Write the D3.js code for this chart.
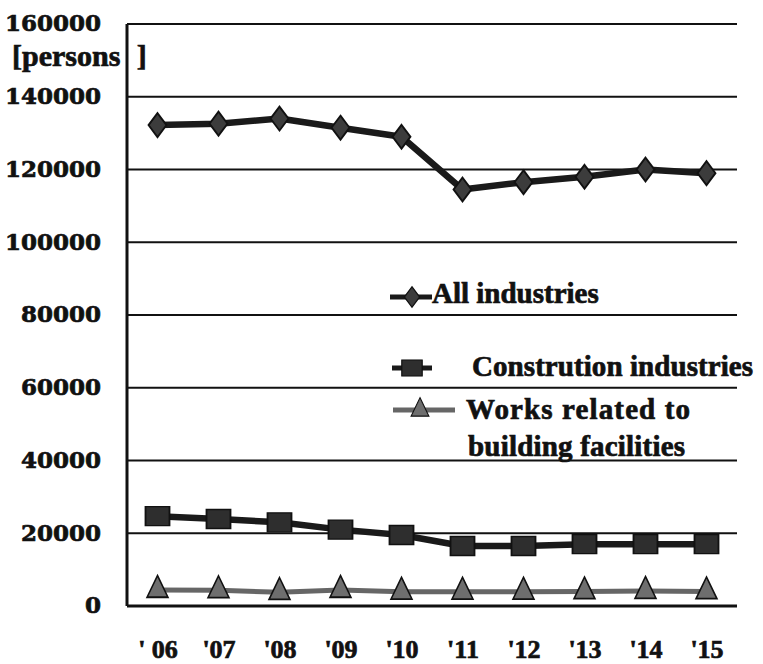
<!DOCTYPE html>
<html>
<head>
<meta charset="utf-8">
<script src="https://cdn.jsdelivr.net/npm/d3@7"></script>
<style>
  html, body { margin: 0; padding: 0; background: #fff; }
  svg { display: block; }
</style>
</head>
<body>
<svg id="chart" width="763" height="664"></svg>
<script>
// Employment by year, in persons
const years = ["' 06", "'07", "'08", "'09", "'10", "'11", "'12", "'13", "'14", "'15"];
const allIndustries = [132200, 132600, 134000, 131500, 129000, 114500, 116500, 118000, 120000, 119000];
const constructionIndustries = [24700, 23900, 23000, 21000, 19500, 16500, 16500, 17000, 17000, 17000];
const buildingFacilityWorks = [4400, 4300, 3800, 4400, 3900, 3900, 3900, 4000, 4100, 4000];
const yTicks = [0, 20000, 40000, 60000, 80000, 100000, 120000, 140000, 160000];
const seriesNames = ["All industries", "Constrution industries", ["Works related to", "building facilities"]];

const svg = d3.select("#chart");
const plotLeft = 127, plotRight = 737, plotTop = 24, plotBottom = 606;
const ink = "#111";

const x = d3.scalePoint().domain(years).range([plotLeft, plotRight]).padding(0.5);
const y = d3.scaleLinear().domain([0, 160000]).range([plotBottom, plotTop]);

// Heavy serif text, slightly outlined to thicken the strokes
function heavy(sel, family, size) {
  return sel
    .attr("font-family", family)
    .attr("font-weight", "bold")
    .attr("font-size", size)
    .attr("fill", ink)
    .attr("stroke", ink)
    .attr("stroke-width", 0.7);
}

// Horizontal grid
svg.append("g")
  .selectAll("line")
  .data(yTicks.filter(d => d > 0))
  .join("line")
  .attr("x1", plotLeft).attr("x2", plotRight)
  .attr("y1", d => y(d)).attr("y2", d => y(d))
  .attr("stroke", ink).attr("stroke-width", 2);

// Y axis tick labels
const yAxis = d3.axisLeft(y).tickValues(yTicks).tickSize(0).tickPadding(0).tickFormat(d3.format("d"));
const gy = svg.append("g").attr("transform", `translate(101,0)`).call(yAxis);
gy.select(".domain").remove();
heavy(gy.selectAll("text"), "'DejaVu Serif', serif", 23).attr("dy", "0.3em");

// Unit label
heavy(svg.append("text"), "'Liberation Serif', serif", 30)
  .attr("x", 12).attr("y", 66)
  .attr("word-spacing", 9)
  .text("[persons ]");

// Axis lines
svg.append("line").attr("x1", plotLeft).attr("x2", plotLeft).attr("y1", plotTop).attr("y2", plotBottom)
  .attr("stroke", ink).attr("stroke-width", 3);
svg.append("line").attr("x1", plotLeft).attr("x2", plotRight).attr("y1", plotBottom).attr("y2", plotBottom)
  .attr("stroke", ink).attr("stroke-width", 3);

// X axis tick labels
const xAxis = d3.axisBottom(x).tickSize(0).tickPadding(0);
const gx = svg.append("g").attr("transform", `translate(0,658)`).call(xAxis);
gx.select(".domain").remove();
heavy(gx.selectAll("text"), "'Liberation Serif', serif", 26).attr("dy", 0);

const line = d3.line().x((d, i) => x(years[i])).y(d => y(d));

const diamond = d3.symbol().type(d3.symbolDiamond).size(150);
const square = d3.symbol().type(d3.symbolSquare).size(400);
const triangle = d3.symbol().type(d3.symbolTriangle).size(190);

const series = [
  { values: allIndustries, color: "#1a1a1a", width: 6.5, shape: diamond, fill: "#3c3c3c", sx: 1.36, sy: 1.05 },
  { values: constructionIndustries, color: "#1a1a1a", width: 6.5, shape: square, fill: "#2e2e2e", sx: 1.2, sy: 0.95 },
  { values: buildingFacilityWorks, color: "#666", width: 5, shape: triangle, fill: "#6e6e6e", sx: 1, sy: 1.2 }
];

series.forEach(s => {
  svg.append("path")
    .datum(s.values)
    .attr("d", line)
    .attr("fill", "none")
    .attr("stroke", s.color)
    .attr("stroke-width", s.width)
    .attr("stroke-linejoin", "round");
  svg.append("g")
    .selectAll("path")
    .data(s.values)
    .join("path")
    .attr("d", s.shape())
    .attr("transform", (d, i) => `translate(${x(years[i])},${y(d)}) scale(${s.sx},${s.sy})`)
    .attr("fill", s.fill)
    .attr("stroke", ink)
    .attr("stroke-width", 1.5);
});

// Legend
const legend = [
  { y: 297, x1: 390, x2: 432, mx: 412, lines: [{ tx: 432, ty: 303 }] },
  { y: 368, x1: 392, x2: 432, mx: 412, lines: [{ tx: 472, ty: 376, len: 281 }] },
  { y: 410, x1: 393, x2: 455, mx: 420, lines: [{ tx: 466, ty: 419, len: 224 }, { tx: 468, ty: 456, len: 217 }] }
];
legend.forEach((l, k) => {
  const s = series[k];
  svg.append("line").attr("x1", l.x1).attr("x2", l.x2).attr("y1", l.y).attr("y2", l.y)
    .attr("stroke", s.color).attr("stroke-width", 5);
  svg.append("path").attr("d", s.shape())
    .attr("transform", `translate(${l.mx},${l.y}) scale(${s.sx * 0.85},${s.sy * 0.85})`)
    .attr("fill", s.fill).attr("stroke", ink).attr("stroke-width", 1.2);
  const names = Array.isArray(seriesNames[k]) ? seriesNames[k] : [seriesNames[k]];
  names.forEach((n, j) => {
    const t = heavy(svg.append("text"), "'Liberation Serif', serif", 29)
      .attr("x", l.lines[j].tx).attr("y", l.lines[j].ty)
      .text(n);
    if (l.lines[j].len) t.attr("textLength", l.lines[j].len).attr("lengthAdjust", "spacing");
  });
});
</script>
</body>
</html>
